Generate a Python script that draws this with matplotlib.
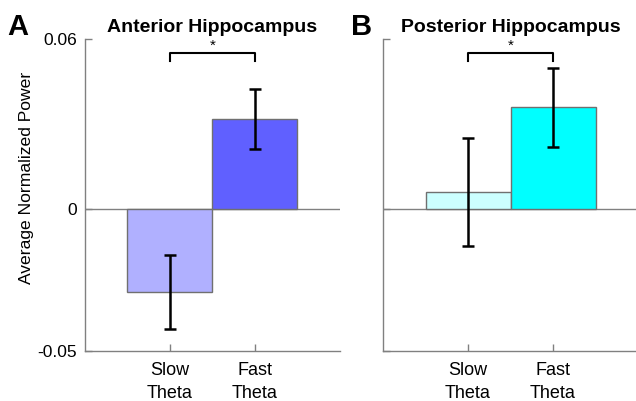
import matplotlib
matplotlib.use("Agg")
import matplotlib.pyplot as plt

plt.rcParams['font.family'] = ['Liberation Sans', 'DejaVu Sans']

categories = ["Slow\nTheta", "Fast\nTheta"]
yticks = [-0.05, 0, 0.06]
ytick_labels = ["-0.05", "0", "0.06"]

anterior_mean = [-0.0293, 0.0317]
anterior_sem = [0.0131, 0.0106]
posterior_mean = [0.0060, 0.0359]
posterior_sem = [0.0190, 0.0139]

anterior_colors = ["#b0b0ff", "#6060ff"]
posterior_colors = ["#ccffff", "#00ffff"]

fig = plt.figure(figsize=(6.36, 4.01), dpi=100)
ax_a = fig.add_axes([0.1336, 0.1247, 0.401, 0.778])
ax_b = fig.add_axes([0.6022, 0.1247, 0.401, 0.778])

spine_col = "#808080"


def draw_panel(ax, means, sems, colors, title, show_labels, xmax):
    x = [1, 2]
    ax.bar(x, means, width=1.0, color=colors, edgecolor="#707070",
           linewidth=1.0, zorder=2)
    ax.errorbar(x, means, yerr=sems, fmt="none", ecolor="black",
                elinewidth=1.8, capsize=4.5, capthick=1.8, zorder=3)
    ax.axhline(0, color=spine_col, linewidth=1.0, zorder=1)
    ax.set_xlim(0, xmax)
    ax.set_ylim(-0.05, 0.06)
    ax.set_xticks(x)
    ax.set_xticklabels(categories, fontsize=13, linespacing=1.45)
    ax.set_yticks(yticks)
    if show_labels:
        ax.set_yticklabels(ytick_labels, fontsize=12.5)
    else:
        ax.set_yticklabels([])
    ax.tick_params(direction="in", length=5, color=spine_col, width=1.0,
                   pad=6, labelcolor="black")
    ax.tick_params(axis="x", pad=8)
    for side in ["top", "right"]:
        ax.spines[side].set_visible(False)
    for side in ["left", "bottom"]:
        ax.spines[side].set_color(spine_col)
        ax.spines[side].set_linewidth(1.0)
    ax.set_title(title, fontsize=14, fontweight="bold", pad=5)

    # significance bracket between the two bars
    top = 0.0551
    drop = 0.0028
    ax.plot([1, 1, 2, 2], [top - drop, top, top, top - drop], color="black",
            linewidth=1.5, clip_on=False, zorder=4)
    ax.text(1.5, top + 0.0002, "*", ha="center", va="bottom", fontsize=11)
    return ax


draw_panel(ax_a, anterior_mean, anterior_sem, anterior_colors,
           "Anterior Hippocampus", True, 3)
ax_a.set_ylabel("Average Normalized Power", fontsize=12.6)
ax_a.yaxis.set_label_coords(-0.2, 0.555)
draw_panel(ax_b, posterior_mean, posterior_sem, posterior_colors,
           "Posterior Hippocampus", False, 3)

fig.text(0.012, 0.932, "A", fontsize=21, fontweight="bold", va="center")
fig.text(0.552, 0.932, "B", fontsize=21, fontweight="bold", va="center")

fig.savefig("out.png", dpi=100)
